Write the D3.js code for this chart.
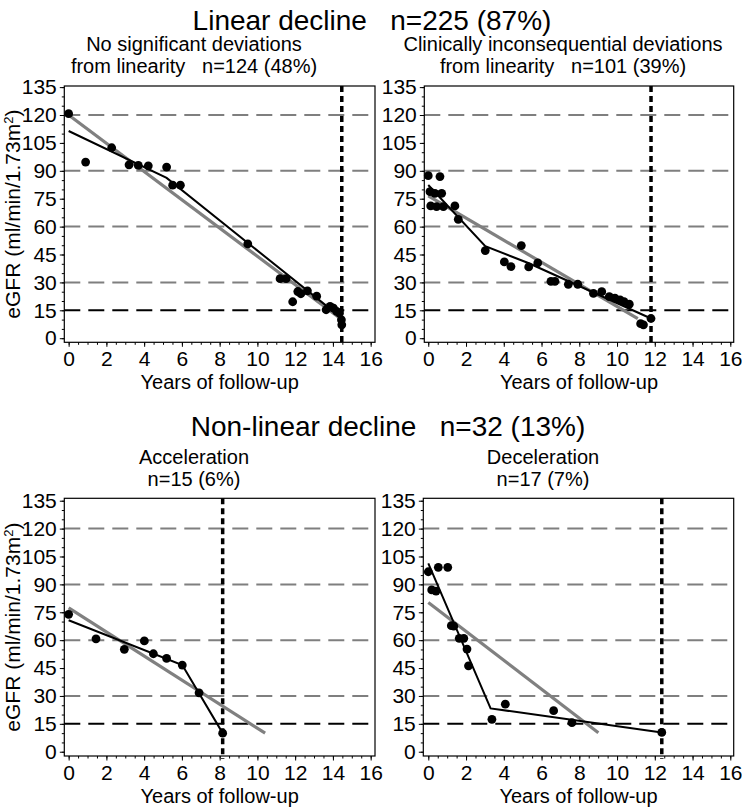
<!DOCTYPE html>
<html><head><meta charset="utf-8">
<script src="https://cdn.jsdelivr.net/npm/d3@7"></script>
<style>body{margin:0;background:#fff}svg{display:block}text{font-family:"Liberation Sans",Arial,sans-serif;fill:#000;white-space:pre}</style>
</head><body><div id="c"></div>
<script>
// ---- data ----
const yTicks = [0,15,30,45,60,75,90,105,120,135];
const xTicks = [0,2,4,6,8,10,12,14,16];
const gridGray = [30,60,90,120];
const gridBlack = [15];

// Panel A: no significant deviations
const aYears = [0,0.9,2.28,3.2,3.69,4.22,5.19,5.51,5.92,9.49,11.2,11.52,11.87,12.14,12.3,12.65,13.14,13.64,13.85,14.03,14.2,14.35,14.45,14.47];
const aEgfr  = [120.7,94.7,102.4,93.2,92.9,92.7,92.0,82.3,82.3,50.7,32.0,32.0,19.6,25.1,23.9,25.5,22.6,15.3,17.1,16.2,14.4,13.5,9.9,7.2];
const aLinX = [0,14.5], aLinY = [120,9.8];
const aSegX = [0,5.19,14.47], aSegY = [111.4,86.2,10.8];
const aEnd = 14.47;

// Panel B: clinically inconsequential deviations
const bYears = [0,0.62,0.09,0.35,0.71,0.13,0.44,0.8,1.41,1.59,3.02,4.03,4.38,4.93,5.32,5.8,6.5,6.71,7.42,7.92,8.75,9.19,9.59,9.89,10.16,10.37,10.65,11.25,11.4,11.8];
const bEgfr  = [87.4,86.9,78.8,77.9,77.9,71.1,70.7,70.7,71.1,63.9,47.1,41.0,38.5,49.8,38.3,40.5,30.6,30.6,29.0,29.0,24.1,25.0,22.4,21.5,20.6,19.7,18.3,7.8,7.2,10.6];
const bLinX = [0,11.1], bLinY = [76.5,10.5];
const bSegX = [0,3.02,5.33,11.8], bSegY = [82.4,49.5,40.3,10.6];
const bEnd = 11.8;

// Panel C: acceleration
const cYears = [0,1.45,2.95,4.01,4.49,5.19,6.02,6.91,8.16];
const cEgfr  = [73.9,60.7,55.1,59.6,52.7,50.2,46.6,31.7,10.0];
const cLinX = [0,10.41], cLinY = [77.4,10.0];
const cSegX = [0,6.02,8.16], cSegY = [70.7,46.6,10.0];
const cEnd = 8.16;

// Panel D: deceleration
const dYears = [0,0.53,1.03,0.18,0.41,1.22,1.35,1.64,1.88,2.05,2.13,3.37,4.08,6.64,7.61,12.37];
const dEgfr  = [96.8,99.2,99.2,87.0,86.4,67.8,67.5,61.0,61.0,55.2,46.2,17.4,25.6,22.1,15.6,10.4];
const dLinX = [0,9.01], dLinY = [80.3,10.2];
const dSegX = [0,3.3,12.37], dSegY = [101.3,23.3,10.4];
const dEnd = 12.37;

const titles = ["Linear decline   n=225 (87%)", "Non-linear decline   n=32 (13%)"];
const subA = ["No significant deviations", "from linearity   n=124 (48%)"];
const subB = ["Clinically inconsequential deviations", "from linearity   n=101 (39%)"];
const subC = ["Acceleration", "n=15 (6%)"];
const subD = ["Deceleration", "n=17 (7%)"];
const xTitle = "Years of follow-up";

// ---- drawing ----
const W = 742, H = 810;
const svg = d3.select("#c").append("svg").attr("width", W).attr("height", H);

const panels = [
  {box:[64.3,375,86,342.3], xd:[-0.23,16.23], yd:[-2.2,135.6], yr:aYears, eg:aEgfr, lx:aLinX, ly:aLinY, sx:aSegX, sy:aSegY, end:aEnd, sub:subA, sc:194, ylab:true},
  {box:[424.3,733.7,86,342.3], xd:[-0.21,16.18], yd:[-2.2,135.6], yr:bYears, eg:bEgfr, lx:bLinX, ly:bLinY, sx:bSegX, sy:bSegY, end:bEnd, sub:subB, sc:563, ylab:false},
  {box:[64.3,375,498.3,756], xd:[-0.23,16.23], yd:[-2.3,136.3], yr:cYears, eg:cEgfr, lx:cLinX, ly:cLinY, sx:cSegX, sy:cSegY, end:cEnd, sub:subC, sc:194, ylab:true},
  {box:[423.3,733.7,498.3,756], xd:[-0.265,16.18], yd:[-2.3,136.3], yr:dYears, eg:dEgfr, lx:dLinX, ly:dLinY, sx:dSegX, sy:dSegY, end:dEnd, sub:subD, sc:543, ylab:false}
];

svg.append("text").attr("x", 372).attr("y", 30).attr("text-anchor","middle").style("font-size","28px").text(titles[0]);
svg.append("text").attr("x", 388).attr("y", 436).attr("text-anchor","middle").style("font-size","28px").text(titles[1]);

panels.forEach((p, i) => {
  const [x0,x1,y0,y1] = p.box;
  const x = d3.scaleLinear().domain(p.xd).range([x0,x1]);
  const y = d3.scaleLinear().domain(p.yd).range([y1,y0]);
  const g = svg.append("g");

  // subtitles
  const subBase = i < 2 ? 51 : 464;
  p.sub.forEach((s, k) => {
    g.append("text").attr("x", p.sc).attr("y", subBase + k*22).attr("text-anchor","middle").style("font-size","20px").text(s);
  });

  // gridlines
  gridGray.forEach(v => g.append("line").attr("x1",x0).attr("x2",x1).attr("y1",y(v)).attr("y2",y(v))
    .attr("stroke","#7f7f7f").attr("stroke-width",2).attr("stroke-dasharray","16,8"));
  gridBlack.forEach(v => g.append("line").attr("x1",x0).attr("x2",x1).attr("y1",y(v)).attr("y2",y(v))
    .attr("stroke","#000").attr("stroke-width",2).attr("stroke-dasharray","16,8"));

  // axes: minor ticks
  const yMinor = d3.range(0,136,5);
  const xMinor = d3.range(0,16.01,0.5);
  g.append("g").attr("transform",`translate(${x0},0)`).call(d3.axisLeft(y).tickValues(yMinor).tickSize(2.5).tickFormat(""))
    .call(a=>a.select(".domain").remove()).selectAll("line").attr("stroke","#000");
  g.append("g").attr("transform",`translate(0,${y1})`).call(d3.axisBottom(x).tickValues(xMinor).tickSize(2.5).tickFormat(""))
    .call(a=>a.select(".domain").remove()).selectAll("line").attr("stroke","#000");
  // major
  const ya = g.append("g").attr("transform",`translate(${x0},0)`).call(d3.axisLeft(y).tickValues(yTicks).tickSize(4.5).tickPadding(3));
  ya.select(".domain").remove();
  ya.selectAll("line").attr("stroke","#000");
  ya.selectAll("text").style("font-size","21px").attr("font-family",null).style("fill","#000");
  const xa = g.append("g").attr("transform",`translate(0,${y1})`).call(d3.axisBottom(x).tickValues(xTicks).tickSize(4.5).tickPadding(4.5));
  xa.select(".domain").remove();
  xa.selectAll("line").attr("stroke","#000");
  xa.selectAll("text").style("font-size","21px").attr("font-family",null).style("fill","#000");

  // frame
  g.append("rect").attr("x",x0).attr("y",y0).attr("width",x1-x0).attr("height",y1-y0)
    .attr("fill","none").attr("stroke","#000").attr("stroke-width",1.2);

  // x title
  g.append("text").attr("x",(x0+x1)/2).attr("y",y1+47).attr("text-anchor","middle").style("font-size","20px").text(xTitle);

  // y title
  if (p.ylab) {
    const t = g.append("text").attr("transform",`translate(20,${(y0+y1)/2}) rotate(-90)`)
      .attr("text-anchor","middle").style("font-size","21px");
    t.append("tspan").text("eGFR (ml/min/1.73m");
    t.append("tspan").attr("dy","-0.55em").style("font-size","13px").text("2");
    t.append("tspan").attr("dy","0.35em").text(")");
  }

  // end (dotted) line
  g.append("line").attr("x1",x(p.end)).attr("x2",x(p.end)).attr("y1",y0).attr("y2",y1+3)
    .attr("stroke","#000").attr("stroke-width",3.5).attr("stroke-dasharray","6,4");

  // linear fit (gray)
  const line = d3.line().x(d=>x(d[0])).y(d=>y(d[1]));
  g.append("path").attr("d", line(d3.zip(p.lx,p.ly))).attr("fill","none").attr("stroke","#808080").attr("stroke-width",3.2);
  // piecewise (black)
  g.append("path").attr("d", line(d3.zip(p.sx,p.sy))).attr("fill","none").attr("stroke","#000").attr("stroke-width",2);

  // points
  g.selectAll("circle.pt").data(d3.zip(p.yr,p.eg)).join("circle").attr("class","pt")
    .attr("cx",d=>x(d[0])).attr("cy",d=>y(d[1])).attr("r",4.4).attr("fill","#000");
});
</script>
</body></html>
